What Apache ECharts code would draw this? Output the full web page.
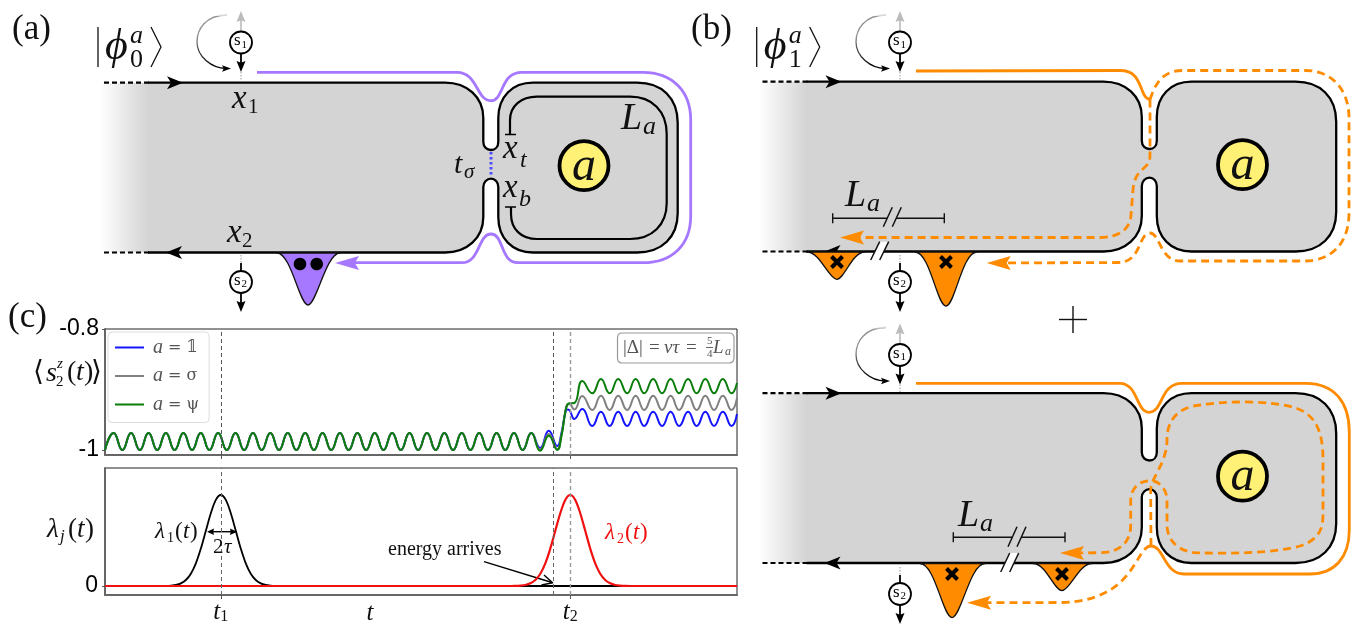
<!DOCTYPE html>
<html><head><meta charset="utf-8">
<script src="https://cdn.jsdelivr.net/npm/echarts@6/dist/echarts.min.js"></script>
<style>html,body{margin:0;padding:0;background:#fff}#c{width:1354px;height:624px}</style></head>
<body><div id="c"></div>
<script>
// ---- panel (c) values ----
const seriesNames = ['a = 𝟙', 'a = σ', 'a = ψ'];
const timeSamples = [0,8.7,17.4,26.1,34.9,43.6,52.3,61,69.7,78.5,87.2,95.9,104.6,113.3,122,130.7,139.4,148.2,156.9,165.6,174.3,183,191.7,200.5,209.2,217.9,226.6,235.3,244,252.8,261.5,270.2,278.9,287.6,296.3,305,313.7,322.5,331.2,339.9,348.6,357.3,366,374.8,383.5,392.2,400.9,409.6,418.3,427,
 435.8,444.5,453,457,461,463,465,470,478,488,496.7,505.4,514,523,531.5,540,549,558,566.5,575,584,592.6,601.3,610,618.8,627.5,633];
const beforeArrival = [-1,-0.972,-1,-0.972,-1,-0.972,-1,-0.972,-1,-0.972,-1,-0.972,-1,-0.972,-1,-0.972,-1,-0.972,-1,-0.972,-1,-0.972,-1,-0.972,-1,-0.972,-1,-0.972,-1,-0.972,-1,-0.972,-1,-0.972,-1,-0.972,-1,-0.972,-1,-0.972,-1,-0.972,-1,-0.972,-1,-0.972,-1,-0.972,-1,-0.972];
const blueAfter  = [-0.9967,-0.9681,-0.9934,-0.9736,-0.9388,-0.9331,-0.9339,-0.9488,-0.9322,-0.9603,-0.9367,-0.9603,-0.9367,-0.9603,-0.9367,-0.9603,-0.9367,-0.9603,-0.9367,-0.9603,-0.9367,-0.9603,-0.9367,-0.9603,-0.9367,-0.9603,-0.9405];
const grayAfter  = [-0.9992,-0.9736,-0.9983,-0.9769,-0.9372,-0.9248,-0.9240,-0.9331,-0.9107,-0.9339,-0.9102,-0.9339,-0.9102,-0.9339,-0.9102,-0.9339,-0.9102,-0.9339,-0.9102,-0.9339,-0.9102,-0.9339,-0.9102,-0.9339,-0.9102,-0.9339,-0.9140];
const greenAfter = [-1.0012,-0.9764,-1,-0.9785,-0.9372,-0.9256,-0.9228,-0.9223,-0.8860,-0.9063,-0.8826,-0.9063,-0.8826,-0.9063,-0.8826,-0.9063,-0.8826,-0.9063,-0.8826,-0.9063,-0.8826,-0.9063,-0.8826,-0.9063,-0.8826,-0.9063,-0.8893];
const lambda1T = [0,56,61,66,71,76,81,86,91,96,101,106,111,116,121,126,131,136,141,146,151,156,161,166,171,176,633];
const lambda1V = [0,0,0.001,0.004,0.011,0.029,0.066,0.135,0.249,0.411,0.607,0.8,0.946,1,0.946,0.8,0.607,0.411,0.249,0.135,0.066,0.029,0.011,0.004,0.001,0,0];
const lambda2T = [0,406,411,416,421,426,431,436,441,446,451,456,461,466,471,476,481,486,491,496,501,506,511,516,521,526,633];
const lambda2V = [0,0,0.001,0.004,0.011,0.029,0.066,0.135,0.249,0.411,0.607,0.8,0.946,1,0.946,0.8,0.607,0.411,0.249,0.135,0.066,0.029,0.011,0.004,0.001,0,0];
const timeTicks = [116, 466];
const timeTickLabels = ['{i|t}{s|1}', '{i|t}{s|2}'];
const markTimes = [116, 449, 466];
const upperTicks = [-1, -0.8];
const lowerTicks = [0];

const pair = (t, v) => t.map((x, i) => [x, v[i]]);
const PURPLE = '#a678ff', ORANGE = '#ff8c00', GRAY = '#d4d4d4';

// ---- schematic outlines, in canvas-sized hidden-axis units ----
const edgeOutline = 'M 148 82.7 L 445 82.7 C 467 82.7 483.3 97 483.3 118 L 483.3 141.7 C 483.3 147 487 150 491 150 C 495 150 498.3 147 498.3 141.7 L 498.3 118 C 498.3 97 512 82.7 533 82.7 L 637 82.7 C 662 82.7 677.7 98 677.7 123 L 677.7 213 C 677.7 237 662 252.5 637 252.5 L 533 252.5 C 512 252.5 498.3 238 498.3 217 L 498.3 187 C 498.3 182 495 178.7 491 178.7 C 487 178.7 483.3 182 483.3 187 L 483.3 217 C 483.3 238 467 252.5 445 252.5 L 148 252.5';
const edgeFill = 'M 100 82.7 L' + edgeOutline.slice(1) + ' L 100 252.5 Z';
const shapes = [];
const add = (d, o) => shapes.push(Object.assign({ d, dx: 0, dy: 0 }, o));
const stroke = (d, color, width, dash, dx, dy) => add(d, { stroke: color, width, dash, dx: dx || 0, dy: dy || 0 });
const fillS = (d, color, dx, dy, line, lw) => add(d, { fill: color, dx: dx || 0, dy: dy || 0, stroke: line, width: lw });
function circle(cx, cy, r) { const k = r * 0.5523;
  return `M ${cx - r} ${cy} C ${cx - r} ${cy - k} ${cx - k} ${cy - r} ${cx} ${cy - r} C ${cx + k} ${cy - r} ${cx + r} ${cy - k} ${cx + r} ${cy} C ${cx + r} ${cy + k} ${cx + k} ${cy + r} ${cx} ${cy + r} C ${cx - k} ${cy + r} ${cx - r} ${cy + k} ${cx - r} ${cy} Z`; }
function head(x, y, ux, uy, len, hw, notch) {
  const bx = x - ux * len, by = y - uy * len, nx = x - ux * len * (1 - notch), ny = y - uy * len * (1 - notch);
  return `M ${x} ${y} L ${bx - uy * hw} ${by + ux * hw} L ${nx} ${ny} L ${bx + uy * hw} ${by - ux * hw} Z`; }
const texts = [];
const SERIF = '"Liberation Serif"';
const T = (s, x, y, size, style, color, family, align) => texts.push({ s, x, y, size, style: style || 'normal', color: color || '#111', family: family || SERIF, align: align || 'left' });

function device(dx, dy) {
  add(edgeFill, { dx, dy, fill: { type: 'linear', x: 0, y: 0, x2: 1, y2: 0, colorStops: [{ offset: 0, color: 'rgba(212,212,212,0)' }, { offset: 0.083, color: GRAY }, { offset: 1, color: GRAY }] } });
  stroke(edgeOutline, '#000', 2.3, null, dx, dy);
  stroke('M 104 82.7 L 150 82.7', '#000', 2.2, [5, 3], dx, dy);
  stroke('M 104 252.5 L 150 252.5', '#000', 2.2, [5, 3], dx, dy);
  fillS(head(183, 82.7, 1, 0, 16, 6.5, 0.25), '#000', dx, dy);
  fillS(head(166, 252.5, -1, 0, 16, 6.5, 0.25), '#000', dx, dy);
  fillS(circle(584, 165.7, 24.5), '#fff176', dx, dy, '#000', 3.8);
  T('a', 584 + dx, 167 + dy, 48, 'italic', '#111', SERIF, 'center');
}
function probeTop(dx, dy) {
  add('M 227 15 C 205 15 197 30 197 42 C 197 57 212 68 226 68.5', { dx, dy, width: 1.3, stroke: { type: 'linear', x: 0, y: 0, x2: 1, y2: 0.6, colorStops: [{ offset: 0, color: '#555' }, { offset: 0.35, color: '#999' }, { offset: 0.6, color: '#444' }, { offset: 1, color: '#000' }] } });
  add('M 215 15 C 219 15 223 15 228 15', { dx, dy, width: 2, stroke: 'rgba(255,255,255,0.7)' });
  fillS(head(231, 68.5, 1, 0, 9, 3.2, 0.2), '#000', dx, dy);
  stroke('M 241 32 L 241 18', '#bbb', 1.6, null, dx, dy);
  fillS(head(241, 11, 0, -1, 11, 4.5, 0.15), '#bbb', dx, dy);
  stroke('M 241 72 L 241 81', '#aaa', 1.2, [1.5, 1.5], dx, dy);
  stroke('M 241 53 L 241 64', '#000', 1.8, null, dx, dy);
  fillS(head(241, 72, 0, 1, 11, 4.5, 0.15), '#000', dx, dy);
  fillS(circle(241, 42.5, 11), '#fff', dx, dy, '#000', 1.8);
  T('s', 234 + dx, 41 + dy, 17, 'normal', '#000');
  T('1', 241.5 + dx, 45 + dy, 11, 'normal', '#000');
}
function probeBottom(dx, dy) {
  stroke('M 241 255 L 241 263', '#aaa', 1.2, [1.5, 1.5], dx, dy);
  stroke('M 241 263 L 241 272', '#000', 1.8, null, dx, dy);
  stroke('M 241 292 L 241 304', '#000', 1.8, null, dx, dy);
  fillS(head(241, 312, 0, 1, 11, 4.5, 0.15), '#000', dx, dy);
  fillS(circle(241, 282, 11), '#fff', dx, dy, '#000', 1.8);
  T('s', 234 + dx, 280.5 + dy, 17, 'normal', '#000');
  T('2', 241.5 + dx, 284.5 + dy, 11, 'normal', '#000');
}
function ket(dx, sub) {
  stroke('M 98 27 L 98 67', '#111', 1.3, null, dx);
  T('ϕ', 105 + dx, 47, 44, 'italic');
  T('a', 130 + dx, 36, 26, 'italic');
  T(sub, 130 + dx, 60, 26);
  stroke('M 151 27 L 161 47 L 151 67', '#111', 1.3, null, dx);
}
function bracket(x1, x2, y, sx, syTop, syBot, ex, eyTop, eyBot, gx, tx, ty) {
  stroke(`M ${x1} ${y} L ${x2} ${y}`, '#111', 1.6);
  stroke(`M ${x1} ${y - 5} L ${x1} ${y + 5}`, '#111', 1.4);
  stroke(`M ${x2} ${y - 5} L ${x2} ${y + 5}`, '#111', 1.4);
  fillS(`M ${sx} ${syBot} L ${sx + 9} ${syTop} L ${sx + 18} ${syTop} L ${sx + 9} ${syBot} Z`, GRAY);
  stroke(`M ${sx} ${syBot} L ${sx + 9} ${syTop}`, '#111', 1.5);
  stroke(`M ${sx + 9} ${syBot} L ${sx + 18} ${syTop}`, '#111', 1.5);
  fillS(`M ${ex} ${eyBot} L ${ex + 9} ${eyTop} L ${ex + 18} ${eyTop} L ${ex + 9} ${eyBot} Z`, '#fff');
  stroke(`M ${ex} ${eyBot} L ${ex + 9} ${eyTop}`, '#111', 1.5);
  stroke(`M ${ex + 9} ${eyBot} L ${ex + 18} ${eyTop}`, '#111', 1.5);
  T('L', tx, ty, 38, 'italic');
  T('a', tx + 22, ty + 8, 26, 'italic');
}
const well = (x1, xm, x2, yTop, yTip, c1, color) => fillS(`M ${x1} ${yTop} C ${x1 + c1} ${yTop} ${xm - c1 * 0.6} ${yTip} ${xm} ${yTip} C ${xm + c1 * 0.6} ${yTip} ${x2 - c1} ${yTop} ${x2} ${yTop} Z`, color, 0, 0, '#111', 1.3);
function cross(x, y) { stroke(`M ${x - 5.5} ${y - 5.5} L ${x + 5.5} ${y + 5.5} M ${x + 5.5} ${y - 5.5} L ${x - 5.5} ${y + 5.5}`, '#000', 4); }

// --- (a) ---
device(0, 0);
probeTop(0, 0); probeBottom(0, 0); ket(0, '0');
stroke('M 510 134 L 510 120 C 510 106 521 96.7 537 96.7 L 630 96.7 C 652 96.7 666.7 111 666.7 134 L 666.7 203 C 666.7 225 652 239 630 239 L 537 239 C 521 239 511 229 511 214 L 511 207', '#000', 2.2);
stroke('M 505 134.5 L 516 134.5', '#000', 1.5); stroke('M 505 207 L 516 207', '#000', 1.5);
stroke('M 491 152 L 491 177', '#4f4fff', 3, [2.5, 2.5]);
stroke('M 257 72.3 L 457 72.3 C 478 72.3 476 100.7 491 100.7 C 504 100.7 500 72.3 522 72.3 L 643 72.3 C 672 72.3 690.7 91 690.7 120 L 690.7 216 C 690.7 245 672 262.7 643 262.7 L 518 262.7 C 500 262.7 504 234 491 234 C 478 234 480 262.7 462 262.7 L 350 262.7', PURPLE, 2.8);
fillS(head(335, 263, -1, 0, 24, 7, 0.17), PURPLE);
well(277, 308, 340, 253, 305, 14, PURPLE);
fillS(circle(300, 264, 6.3), '#000'); fillS(circle(316.7, 264, 6.3), '#000');
// --- (b) ---
device(658.5, -1);
probeTop(659, 0); probeBottom(659, 0); ket(658.7, '1');
stroke('M 916 71 L 1120 70.5 C 1135 70.5 1138 80 1142 90 C 1144 96 1147 99 1150 99.5', ORANGE, 2.8);
stroke('M 1150 99.5 C 1153 92 1158 70.5 1182 70.5 L 1306 70.5 C 1332 70.5 1349 90 1349 118 L 1349 213 C 1349 243 1332 261 1304 261 L 1180 261 C 1160 261 1160 233 1150 233 C 1138 233 1142 262.5 1118 262.5 L 1000 263', ORANGE, 2.8, [8, 5]);
stroke('M 1150 99.5 L 1150 155 C 1150 172 1135 165 1133 190 L 1131 215 C 1130 230 1118 237.5 1100 237.5 L 855 237.5', ORANGE, 2.8, [8, 5]);
fillS(head(986.7, 263, -1, 0, 24, 7, 0.17), ORANGE);
fillS(head(840, 237.5, -1, 0, 24, 7, 0.17), ORANGE);
well(807, 836.7, 865, 252, 279.3, 13, ORANGE);
well(915, 946, 977, 252, 306, 15, ORANGE);
cross(837, 262); cross(946, 262);
bracket(832.7, 944.3, 218.3, 883.3, 207.3, 226.7, 870.7, 241.7, 260, 0, 845, 196);
// --- (b, lower) ---
device(658.5, 310.5);
probeTop(659, 312.5); probeBottom(659, 312);
stroke('M 916 383.3 L 1120 383.3 C 1138 383.3 1136 412.3 1149.3 412.3 C 1163 412.3 1160 383.3 1182 383.3 L 1306 383.3 C 1334 383.3 1349.3 402 1349.3 432 L 1349.3 530 C 1349.3 558 1334 574 1310 574 L 1184 574 C 1164 574 1164 546 1151 546', ORANGE, 2.8);
stroke('M 1151 546 C 1135 546 1136 601.7 1060 602.5 L 985 602.7', ORANGE, 2.8, [8, 5]);
stroke('M 1151 546 L 1150.7 490 C 1150.7 478 1167 463 1167 440 C 1167 418 1180 407 1200 405 C 1225 401 1270 400 1296 408 C 1315 415 1323 430 1323 460 L 1323 515 C 1323 530 1318 540 1300 546 C 1275 553 1230 554 1195 552.7 C 1178 551 1167 540 1167 525 L 1167 500 C 1167 490 1160 480.7 1150 480.7 C 1138 480.7 1130.7 490 1130.7 500 L 1130.7 525 C 1130.7 542 1120 552.7 1100 552.7 L 1075 553', ORANGE, 2.8, [8, 5]);
fillS(head(967, 602.7, -1, 0, 24, 7, 0.17), ORANGE);
fillS(head(1060, 553, -1, 0, 24, 7, 0.17), ORANGE);
well(920, 952, 985, 563.5, 617.5, 15, ORANGE);
well(1033, 1062, 1092, 563.5, 590.7, 13, ORANGE);
cross(952, 574); cross(1062, 574);
bracket(953.3, 1065, 537.3, 1008, 526.7, 546.7, 1000.7, 553, 572, 0, 958, 516);
// plus sign
stroke('M 1059 319.5 L 1087 319.5', '#111', 1.4); stroke('M 1073 306 L 1073 333', '#111', 1.4);
// energy arrow, width arrow, info box
stroke('M 484 561.7 L 552 582.5', '#000', 1.4);
stroke('M 544 575 L 552.6 582.7 L 541.5 585', '#000', 1.4);
stroke('M 209 531.7 L 236 531.7', '#000', 1.4);
fillS(head(207, 531.7, -1, 0, 7, 3.2, 0.1), '#000'); fillS(head(237, 531.7, 1, 0, 7, 3.2, 0.1), '#000');
const boxD = 'M 622 333 L 729 333 C 732 333 734 335 734 338 L 734 358 C 734 361 732 363 729 363 L 622 363 C 619 363 617.5 361 617.5 358 L 617.5 338 C 617.5 335 619 333 622 333 Z';
fillS(boxD, '#fff', 0, 0, '#999', 1.2);
stroke('M 706 347.5 L 713 347.5', '#555', 0.9);

// --- text ---
T('(a)', 12, 30, 35); T('(b)', 691, 30, 35); T('(c)', 8, 318, 35);
T('x', 232, 99, 33, 'italic'); T('1', 248, 107, 21);
T('x', 227, 233, 33, 'italic'); T('2', 242, 241, 21);
T('L', 621, 119, 38, 'italic'); T('a', 643, 127, 26, 'italic');
T('t', 454, 165, 30, 'italic'); T('σ', 464, 172, 21, 'italic');
T('x', 503, 149, 33, 'italic'); T('t', 520, 161, 24, 'italic');
T('x', 503, 188, 33, 'italic'); T('b', 519, 200, 24, 'italic');
// axis words
T('⟨', 33, 373, 28, 'normal', '#111', '"DejaVu Sans"');
T('s', 46, 374, 28, 'italic'); T('z', 57, 364, 15, 'italic'); T('2', 56, 382, 15);
T('(', 67, 373, 28); T('t', 76, 373, 28, 'italic'); T(')', 84, 373, 28);
T('⟩', 91, 373, 28, 'normal', '#111', '"DejaVu Sans"');
T('λ', 47, 530, 27, 'italic'); T('j', 60, 537, 17, 'italic');
T('(', 68, 530, 27); T('t', 77, 530, 27, 'italic'); T(')', 85, 530, 27);
T('λ', 155, 532, 23, 'italic'); T('1', 167, 538, 14);
T('(', 175, 532, 23); T('t', 183, 532, 23, 'italic'); T(')', 190, 532, 23);
T('2', 213, 547, 21); T('τ', 224, 547, 21, 'italic');
T('energy arrives', 388, 550, 20);
T('t', 370, 613, 25, 'italic', '#111', SERIF, 'center');
T('λ', 605, 533, 23, 'italic', '#ee1111'); T('2', 617, 539, 14, 'normal', '#ee1111');
T('(', 625, 533, 23, 'normal', '#ee1111'); T('t', 633, 533, 23, 'italic', '#ee1111'); T(')', 640, 533, 23, 'normal', '#ee1111');
T('|Δ|', 623, 348, 19, 'normal', '#555'); T('=', 649, 348, 19, 'normal', '#555'); T('vτ', 664, 348, 19, 'italic', '#555');
T('=', 686, 348, 19, 'normal', '#555');
T('5', 707, 341, 11, 'normal', '#555'); T('4', 707, 354, 11, 'normal', '#555');
T('L', 713, 348, 19, 'italic', '#555'); T('a', 725, 352, 12, 'italic', '#555');

function toPathData(d, s, api) {
  const tk = d.split(/\s+/); let out = [], buf = [];
  tk.forEach(t => {
    if (/^[A-Za-z]$/.test(t)) { out.push(t); return; }
    buf.push(parseFloat(t));
    if (buf.length === 2) { const p = api.coord([buf[0] + s.dx, buf[1] + s.dy]); out.push(p[0].toFixed(2), p[1].toFixed(2)); buf = []; }
  });
  return out.join(' ');
}
const lineS = (name, v, color) => ({ name, type: 'line', xAxisIndex: 1, yAxisIndex: 1, data: pair(timeSamples, beforeArrival.concat(v)), showSymbol: false, symbol: 'none', smooth: 0.5, lineStyle: { color, width: 2 }, itemStyle: { color }, z: 3 });
const vLines = color => ({ silent: true, symbol: 'none', animation: false, label: { show: false }, data: markTimes.map((t, i) => ({ xAxis: t, lineStyle: { color: i === 2 ? '#999' : color, type: [4, 3], width: i === 2 ? 1.4 : 1 } })) });
const upper = [lineS(seriesNames[0], blueAfter, '#1414ff'), lineS(seriesNames[1], grayAfter, '#808080'), lineS(seriesNames[2], greenAfter, '#0a7d0a')];
upper[0].markLine = vLines('#555');

const timeAxis = (idx, top, showLabels) => ({
  type: 'value', gridIndex: idx, min: 0, max: 633,
  axisLine: { show: true, onZero: false, lineStyle: { color: '#666', width: 2 } },
  axisTick: { show: true, customValues: timeTicks, length: 4, lineStyle: { color: '#555', width: 1 } },
  splitLine: { show: false },
  axisLabel: showLabels ? { show: true, customValues: timeTicks, margin: 4, formatter: v => timeTickLabels[timeTicks.indexOf(v)],
    rich: { i: { fontFamily: SERIF, fontStyle: 'italic', fontSize: 25, color: '#111', lineHeight: 26 }, s: { fontFamily: SERIF, fontSize: 16, color: '#111', lineHeight: 10, verticalAlign: 'bottom' } } } : { show: false }
});
const option = {
  backgroundColor: '#fff', animation: false,
  legend: { show: true, data: seriesNames.map(name => ({ name, icon: 'rect' })), orient: 'vertical', left: 108, top: 332, padding: [5.5, 10, 8, 7], itemWidth: 29, itemHeight: 2, itemGap: 8.5, selectedMode: false,
    backgroundColor: '#fff', borderColor: '#ddd', borderWidth: 1, borderRadius: 4,
    formatter: n => '{i|a}{n|' + n.slice(1) + '}',
    textStyle: { rich: { i: { fontFamily: SERIF, fontStyle: 'italic', fontSize: 20, color: '#555', lineHeight: 20, padding: [0, 0, 0, 4] }, n: { fontFamily: '"DejaVu Serif"', fontSize: 16, color: '#555', lineHeight: 20 } } } },
  grid: [
    { left: 0, top: 0, width: 1354, height: 624, show: false, outerBoundsMode: 'none' },
    { left: 105, top: 329, width: 632, height: 126, show: true, borderColor: '#222', borderWidth: 1, outerBoundsMode: 'none' },
    { left: 105, top: 468, width: 632, height: 127, show: true, borderColor: '#222', borderWidth: 1, outerBoundsMode: 'none' }
  ],
  xAxis: [
    { type: 'value', gridIndex: 0, min: 0, max: 1354, show: false },
    timeAxis(1, 329, false),
    timeAxis(2, 468, true)
  ],
  yAxis: [
    { type: 'value', gridIndex: 0, min: 0, max: 624, inverse: true, show: false },
    { type: 'value', gridIndex: 1, min: -1.0083, max: -0.8,
      axisLine: { show: true, onZero: false, lineStyle: { color: '#666', width: 2 } }, splitLine: { show: false },
      axisTick: { show: true, customValues: upperTicks, length: 3, lineStyle: { color: '#555' } },
      axisLabel: { show: true, customValues: upperTicks, margin: 6, fontFamily: '"Liberation Sans"', fontSize: 23, color: '#000', formatter: v => String(v) } },
    { type: 'value', gridIndex: 2, min: -0.099, max: 1.297,
      axisLine: { show: true, onZero: false, lineStyle: { color: '#666', width: 2 } }, splitLine: { show: false },
      axisTick: { show: true, customValues: lowerTicks, length: 3, lineStyle: { color: '#555' } },
      axisLabel: { show: true, customValues: lowerTicks, margin: 7, fontFamily: '"Liberation Sans"', fontSize: 23, color: '#000', formatter: v => String(v) } }
  ],
  series: [
    { type: 'custom', xAxisIndex: 0, yAxisIndex: 0, silent: true, z: 2, data: shapes.map(() => [0, 0]), clip: false,
      renderItem(params, api) { const s = shapes[params.dataIndex];
        return { type: 'path', shape: { pathData: toPathData(s.d, s, api) }, style: { fill: s.fill || 'none', stroke: s.stroke || 'none', lineWidth: s.width || 0, lineDash: s.dash || null, lineJoin: 'round' } }; } },
    ...upper,
    { name: 'lambda1', type: 'line', xAxisIndex: 2, yAxisIndex: 2, data: pair(lambda1T, lambda1V), symbol: 'none', smooth: 0.3, lineStyle: { color: '#000', width: 1.8 }, z: 3,
      markLine: vLines('#666') },
    { name: 'lambda2', type: 'line', xAxisIndex: 2, yAxisIndex: 2, data: pair(lambda2T, lambda2V), symbol: 'none', smooth: 0.3, lineStyle: { color: '#f01010', width: 2.2 }, z: 4 },
    { type: 'custom', xAxisIndex: 0, yAxisIndex: 0, silent: true, z: 6, data: texts.map(() => [0, 0]), clip: false,
      renderItem(params, api) { const t = texts[params.dataIndex], p = api.coord([t.x, t.y]);
        return { type: 'text', x: p[0], y: p[1], style: { text: t.s, fill: t.color, font: `${t.style} ${t.size}px ${t.family}`, align: t.align, verticalAlign: 'middle' } }; } }
  ]
};
const chart = echarts.init(document.getElementById('c'), null, { renderer: 'canvas' });
chart.setOption(option);
</script></body></html>
